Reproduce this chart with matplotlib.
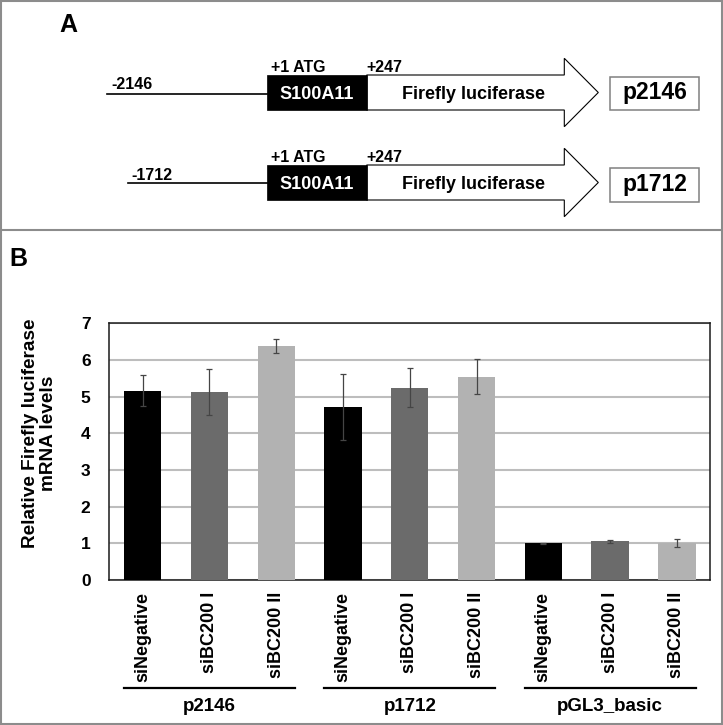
import matplotlib
matplotlib.use("Agg")
import matplotlib.pyplot as plt
from matplotlib.patches import Polygon, Rectangle
from matplotlib.lines import Line2D
import matplotlib.transforms as mtransforms

plt.rcParams['font.family'] = ['Liberation Sans', 'DejaVu Sans']
plt.rcParams['font.weight'] = 'bold'

# ---------------- data ----------------
conditions = ["siNegative", "siBC200 I", "siBC200 II",
              "siNegative", "siBC200 I", "siBC200 II",
              "siNegative", "siBC200 I", "siBC200 II"]
groups = ["p2146", "p1712", "pGL3_basic"]
values = [5.16, 5.13, 6.38, 4.71, 5.24, 5.54, 1.00, 1.05, 1.00]
errors = [0.42, 0.62, 0.18, 0.90, 0.53, 0.48, 0.01, 0.05, 0.11]
bar_colors = ["#000000", "#6b6b6b", "#b2b2b2"] * 3
yticks = [0, 1, 2, 3, 4, 5, 6, 7]

construct_names = ["p2146", "p1712"]
construct_starts = ["-2146", "-1712"]

W, H = 723, 725
fig = plt.figure(figsize=(W / 100, H / 100), dpi=100)

# ---------------- overlay (pixel coordinates) ----------------
ov = fig.add_axes([0, 0, 1, 1], zorder=0)
ov.set_xlim(0, W)
ov.set_ylim(H, 0)
ov.axis("off")

border = "#8c8c8c"
ov.add_patch(Rectangle((1.2, 1.2), W - 2.6, H - 2.6, fill=False,
                       edgecolor=border, lw=1.5))
ov.plot([1, W - 1], [230, 230], color=border, lw=1.5)

ov.text(59, 31.5, "A", fontsize=18, fontweight="bold", va="baseline", ha="left")
ov.text(9, 265.5, "B", fontsize=18, fontweight="bold", va="baseline", ha="left")

row_specs = [
    dict(line_x0=106.7, line_y=93.7, box_top=75, head_top=58.3, head_bot=126.7,
         pbox_top=76.7, pbox_bot=110, start_x=111.7, start_base=89.3),
    dict(line_x0=127.7, line_y=183.3, box_top=165, head_top=148.3, head_bot=216.7,
         pbox_top=168.3, pbox_bot=202.3, start_x=131.7, start_base=180.0),
]

for name, start, r in zip(construct_names, construct_starts, row_specs):
    bt = r["box_top"]
    bb = bt + 35
    cy = (bt + bb) / 2
    # promoter line
    ov.plot([r["line_x0"], 266.7], [r["line_y"], r["line_y"]], color="black", lw=1.2)
    ov.text(r["start_x"], r["start_base"], start, fontsize=11.5, fontweight="bold",
            ha="left", va="baseline")
    # arrow (luciferase)
    hc = (r["head_top"] + r["head_bot"]) / 2
    pts = [(366.7, bt), (564.3, bt), (564.3, r["head_top"]), (598.3, hc),
           (564.3, r["head_bot"]), (564.3, bb), (366.7, bb)]
    ov.add_patch(Polygon(pts, closed=True, facecolor="white", edgecolor="black", lw=0.8))
    # S100A11 box
    ov.add_patch(Rectangle((266.7, bt), 100, 35, facecolor="black", edgecolor="black", lw=0.5))
    ov.text(316.7, cy + 6.4, "S100A11", color="white", fontsize=13, fontweight="bold",
            ha="center", va="baseline")
    ov.text(473.8, cy + 6.3, "Firefly luciferase", fontsize=13, fontweight="bold",
            ha="center", va="baseline")
    ov.text(270.7, bt - 3.4, "+1 ATG", fontsize=11.5, fontweight="bold",
            ha="left", va="baseline")
    ov.text(366.7, bt - 3.4, "+247", fontsize=11.5, fontweight="bold",
            ha="left", va="baseline")
    # construct label box
    pt, pb = r["pbox_top"], r["pbox_bot"]
    ov.add_patch(Rectangle((610, pt), 89.3, pb - pt, facecolor="white",
                           edgecolor="#808080", lw=1.1))
    ov.text(654.6, (pt + pb) / 2 + 6.0, name, fontsize=16.5, fontweight="bold",
            ha="center", va="baseline")

# ---------------- bar chart ----------------
ax = fig.add_axes([109.3 / W, (H - 580) / H, 601 / W, 256.7 / H], zorder=2)
ax.patch.set_alpha(0)
x = list(range(len(values)))
bw = 0.56
ax.bar(x, values, width=bw, color=bar_colors, zorder=3)
ax.errorbar(x, values, yerr=errors, fmt="none", ecolor="#454545",
            elinewidth=0.9, capsize=2.4, capthick=0.9, zorder=4)

ax.set_xlim(-0.5, len(values) - 0.5)
ax.set_ylim(0, 7)
ax.set_yticks(yticks)
ax.set_yticklabels([str(v) for v in yticks], fontsize=12.5, fontweight="bold")
ax.yaxis.grid(True, color="#bdbdbd", lw=1.5, zorder=0)
ax.set_axisbelow(True)
ax.tick_params(axis="y", length=0, pad=13.5)
ax.set_xticks(x)
ax.set_xticklabels(conditions, rotation=90, fontsize=13, fontweight="bold",
                   va="top", ha="center")
ax.tick_params(axis="x", length=0, pad=8.5)
for s in ax.spines.values():
    s.set_color("#1a1a1a")
    s.set_linewidth(1.1)

# group brackets
trans = mtransforms.blended_transform_factory(ax.transData, ax.transAxes)
for gi, g in enumerate(groups):
    i0, i2 = gi * 3, gi * 3 + 2
    ax.add_line(Line2D([i0 - bw / 2, i2 + bw / 2], [-0.422, -0.422], transform=trans,
                       color="black", lw=1.6, clip_on=False))
    ax.text(i0 + 1, -0.512, g, transform=trans, fontsize=13.5, fontweight="bold",
            ha="center", va="baseline", clip_on=False)

fig.text(39.7 / W, (H - 433.5) / H, "Relative Firefly luciferase\nmRNA levels",
         rotation=90, fontsize=13.7, fontweight="bold", ha="center", va="center",
         multialignment="center", linespacing=1.1)

fig.savefig("out.png", dpi=100)
